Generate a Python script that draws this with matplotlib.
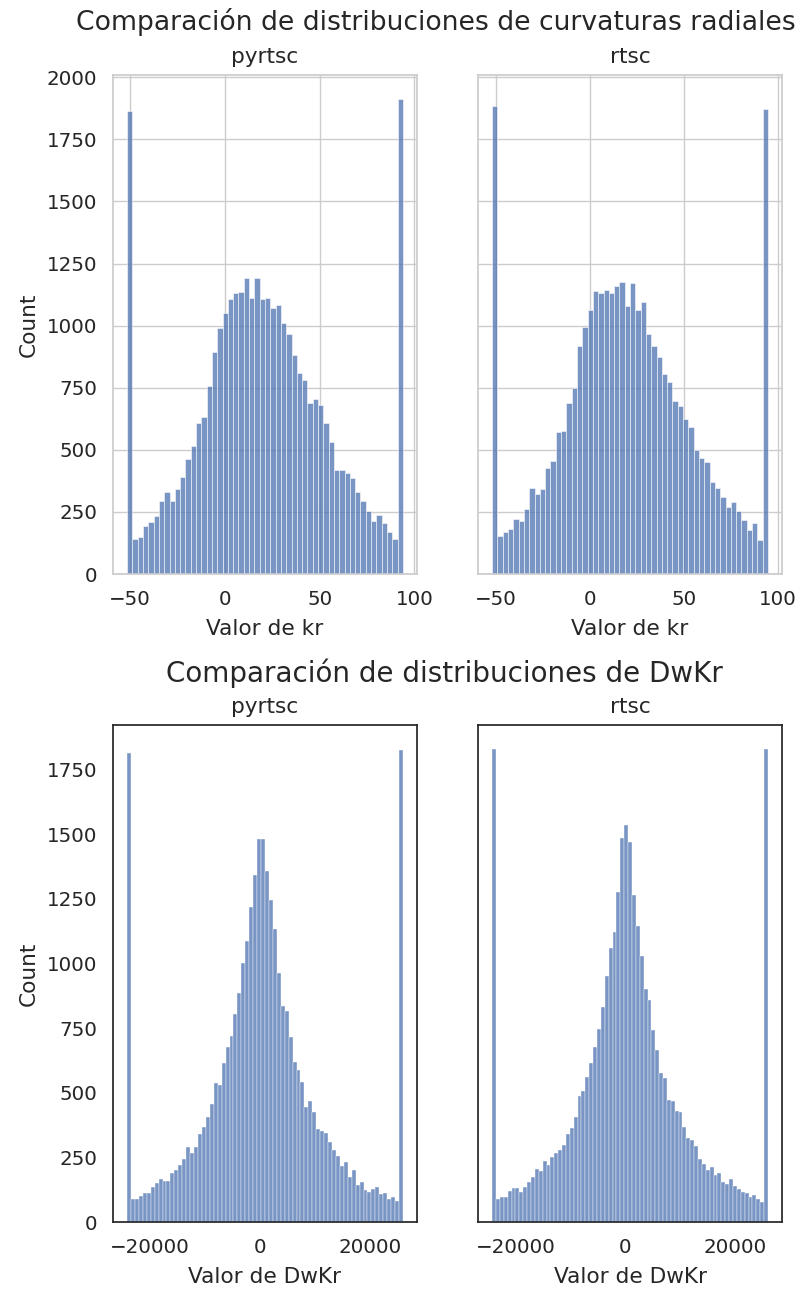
import numpy as np
import matplotlib
matplotlib.use("Agg")
import matplotlib.pyplot as plt
from matplotlib.colors import to_rgba
from matplotlib.ticker import MultipleLocator
import seaborn as sns

# ---------------- data ----------------
groups = ["pyrtsc", "rtsc"]

kr_pyrtsc_range = (-51.6, 93.9)
kr_pyrtsc_counts = [1864,
                    141, 148, 192, 208, 235, 293, 332, 293, 343, 391,
                    462, 517, 609, 632, 755, 895, 990, 1050, 1106, 1130,
                    1135, 1192, 1112, 1192, 1107, 1113, 1073, 1085, 1012, 966,
                    880, 810, 782, 689, 703, 679, 609, 532, 419, 419,
                    407, 386, 332, 294, 255, 212, 239, 207, 169, 142,
                    1913]

kr_rtsc_range = (-51.8, 94.6)
kr_rtsc_counts = [1884,
                  152, 169, 180, 223, 212, 262, 347, 323, 343, 425,
                  457, 571, 575, 689, 750, 917, 994, 1063, 1139, 1133,
                  1142, 1133, 1160, 1176, 1080, 1172, 1063, 1095, 965, 920,
                  873, 805, 773, 696, 675, 626, 593, 501, 468, 452,
                  370, 348, 309, 271, 289, 255, 218, 179, 207, 137,
                  1873]

dw_pyrtsc_range = (-24230, 25990)
dw_pyrtsc_counts = [1815,
                    91, 91, 102, 112, 112, 138, 153, 169, 161, 161,
                    192, 202, 221, 243, 290, 269, 290, 341, 367, 406,
                    456, 539, 529, 614, 676, 722, 807, 888, 1004, 1087,
                    1219, 1343,
                    1482, 1482,
                    1358, 1244, 1134, 962, 837, 816, 717, 618, 587, 541,
                    447, 467, 425, 359, 354, 344, 312, 281, 255, 218,
                    233, 176, 202, 144, 156, 125, 118, 129, 135, 109,
                    115, 89, 99, 82,
                    1827]

dw_rtsc_range = (-24220, 25910)
dw_rtsc_counts = [1831,
                  91, 97, 97, 122, 134, 134, 117, 138, 155, 176,
                  206, 200, 237, 221, 254, 269, 280, 300, 341, 363,
                  408, 488, 509, 560, 614, 676, 748, 833, 951, 1062,
                  1123, 1275, 1487,
                  1535,
                  1470, 1264, 1145, 1029, 900, 859, 743, 666, 578, 556,
                  473, 469, 431, 425, 370, 327, 318, 295, 243, 224,
                  202, 212, 182, 192, 155, 148, 166, 140, 129, 118,
                  112, 99, 104, 91, 77,
                  1831]

title_top = "Comparación de distribuciones de curvaturas radiales"
title_bottom = "Comparación de distribuciones de DwKr"
xlabel_top = "Valor de kr"
xlabel_bottom = "Valor de DwKr"

BAR_COLOR = to_rgba("#4c72b0", 0.75)


def draw_hist(ax, rng, counts):
    counts = np.asarray(counts, dtype=float)
    edges = np.linspace(rng[0], rng[1], len(counts) + 1)
    widths = np.diff(edges)
    bars = ax.bar(edges[:-1], counts, widths, align="edge",
                  facecolor=BAR_COLOR, edgecolor="white")
    # seaborn-like linewidth: 10% of the bin width in points
    fig = ax.figure
    ax.autoscale_view()
    px = abs(ax.transData.transform([widths[0], 0])[0]
             - ax.transData.transform([0, 0])[0])
    lw = max(min(0.1 * px * 72 / fig.dpi, 1.0), 0.1)
    for b in bars:
        b.set_linewidth(lw)


sns.set_theme(style="whitegrid", font_scale=1.3)
plt.rcParams['font.family'] = ['DejaVu Sans']

fig = plt.figure(figsize=(8, 12.9), dpi=100)

W = 0.3793
H_top = 0.3868
H_bot = 0.3855
X_L, X_R = 0.1416, 0.5979
Y_TOP, Y_BOT = 0.5550, 0.0525

with sns.axes_style("whitegrid"):
    ax1 = fig.add_axes([X_L, Y_TOP, W, H_top])
    ax2 = fig.add_axes([X_R, Y_TOP, W, H_top], sharey=ax1)
with sns.axes_style("white"):
    ax3 = fig.add_axes([X_L, Y_BOT, W, H_bot])
    ax4 = fig.add_axes([X_R, Y_BOT, W, H_bot], sharey=ax3)

draw_hist(ax1, kr_pyrtsc_range, kr_pyrtsc_counts)
draw_hist(ax2, kr_rtsc_range, kr_rtsc_counts)
draw_hist(ax3, dw_pyrtsc_range, dw_pyrtsc_counts)
draw_hist(ax4, dw_rtsc_range, dw_rtsc_counts)

for ax, g in zip([ax1, ax2, ax3, ax4], groups * 2):
    ax.set_title(g, pad=8.5)
    ax.yaxis.set_major_locator(MultipleLocator(250))
    ax.tick_params(axis="both", pad=5.5)

for ax in (ax1, ax2):
    ax.set_xlabel(xlabel_top, labelpad=7)
    ax.xaxis.set_major_locator(MultipleLocator(50))
for ax in (ax3, ax4):
    ax.set_xlabel(xlabel_bottom, labelpad=7)
    ax.xaxis.set_major_locator(MultipleLocator(20000))

for ax in (ax1, ax3):
    ax.set_ylabel("Count")
    ax.yaxis.set_label_coords(-0.245, 0.5)
for ax in (ax2, ax4):
    ax.set_ylabel("")
    ax.tick_params(labelleft=False)

fig.text(0.545, 0.983, title_top, ha="center", va="center", fontsize=19.2)
fig.text(0.556, 0.478, title_bottom, ha="center", va="center", fontsize=20)

fig.savefig("out.png", dpi=100)
